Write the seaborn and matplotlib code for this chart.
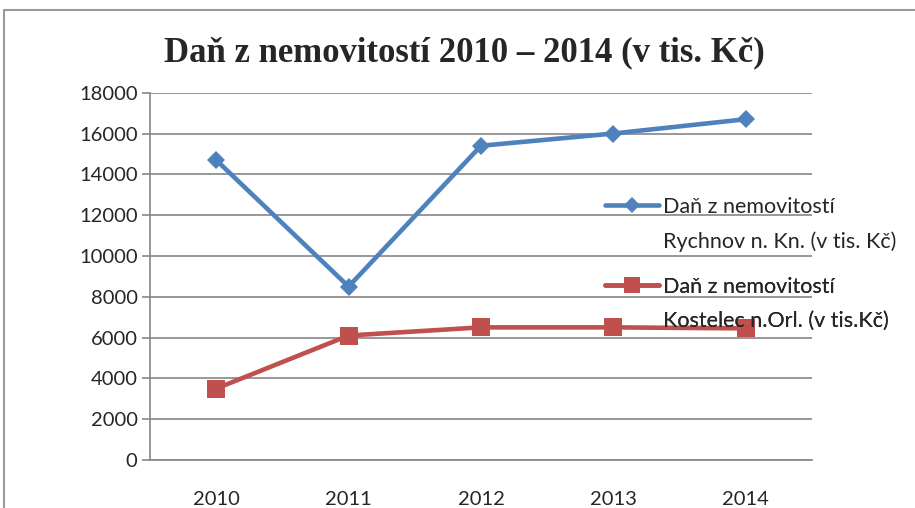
import numpy as np
import pandas as pd
import matplotlib
matplotlib.use("Agg")
import matplotlib.pyplot as plt
import seaborn as sns
from matplotlib.lines import Line2D

# === data ===
years = ["2010", "2011", "2012", "2013", "2014"]
rychnov = [14700, 8500, 15400, 16000, 16700]
kostelec = [3500, 6100, 6500, 6500, 6450]
series_names = ["Rychnov", "Kostelec"]
legend_lines = [
    ("Daň z nemovitostí", "Rychnov n. Kn. (v tis. Kč)"),
    ("Daň z nemovitostí", "Kostelec n.Orl. (v tis.Kč)"),
]
title = "Daň z nemovitostí 2010 – 2014 (v tis. Kč)"
yticks = np.arange(0, 18001, 2000)

colors = ["#4F81BD", "#C0504D"]
markers = ["D", "s"]
msizes = [9.5, 13]

df = pd.DataFrame({
    "x": list(range(len(years))) * 2,
    "value": rychnov + kostelec,
    "series": [series_names[0]] * len(years) + [series_names[1]] * len(years),
})

sns.set_style("white")
plt.rcParams["font.family"] = ["Lato", "DejaVu Sans"]

fig = plt.figure(figsize=(9.15, 5.08), dpi=100)
ax = fig.add_axes([150 / 915, 1 - 460 / 508, 662 / 915, 367.3 / 508])

for i, name in enumerate(series_names):
    sub = df[df["series"] == name]
    sns.lineplot(data=sub, x="x", y="value", ax=ax, color=colors[i],
                 marker=markers[i], markersize=msizes[i], markeredgewidth=0,
                 linewidth=3.3, legend=False, zorder=3)

ax.set_xlim(-0.5, len(years) - 0.5)
ax.set_ylim(0, 18000)
ax.set_yticks(yticks)
ax.set_yticklabels([str(v) for v in yticks], fontsize=14.5)
ax.set_xticks(range(len(years)))
ax.set_xticklabels(years, fontsize=14.5)
ax.set_xticks(np.arange(-0.5, len(years), 1.0), minor=True)
ax.tick_params(axis="x", which="major", length=0, pad=22)
ax.tick_params(axis="x", which="minor", length=6, width=1.2, color="#868686", direction="out")
ax.tick_params(axis="y", length=6, width=1.2, color="#868686", direction="out", pad=3, left=True)
ax.set_xlabel("")
ax.set_ylabel("")
ax.grid(axis="y", color="#868686", linewidth=1.2)
ax.grid(axis="x", visible=False)
ax.set_axisbelow(True)
for side in ["top", "right"]:
    ax.spines[side].set_visible(False)
for side in ["left", "bottom"]:
    ax.spines[side].set_color("#868686")
    ax.spines[side].set_linewidth(1.2)

fig.text(0.507, 1 - 53 / 508, title, ha="center", va="center", fontsize=25,
         fontweight="bold", family="Liberation Serif")

# legend: one small legend per series, marker sits on the first text line
tops = [197, 277]
for i, (l1, l2) in enumerate(legend_lines):
    h = [Line2D([], [], color=colors[i], marker=markers[i],
                markersize=msizes[i] * 0.85, markeredgewidth=0, linewidth=3.3),
         Line2D([], [], color="none")]
    leg = ax.legend(h, [l1, l2], loc="upper left",
                    bbox_to_anchor=(605 / 915, 1 - tops[i] / 508),
                    bbox_transform=fig.transFigure, frameon=False, fontsize=15.5,
                    handlelength=2.5, handletextpad=0.2, labelspacing=0.66,
                    borderpad=0, borderaxespad=0)
    ax.add_artist(leg)

# outer frame like the pasted chart object
fig.add_artist(Line2D([4 / 915, 4 / 915], [0, 1 - 10 / 508], color="#9a9a9a", lw=1.5))
fig.add_artist(Line2D([4 / 915, 1], [1 - 10 / 508, 1 - 10 / 508], color="#9a9a9a", lw=1.5))

fig.savefig("out.png", dpi=100)
